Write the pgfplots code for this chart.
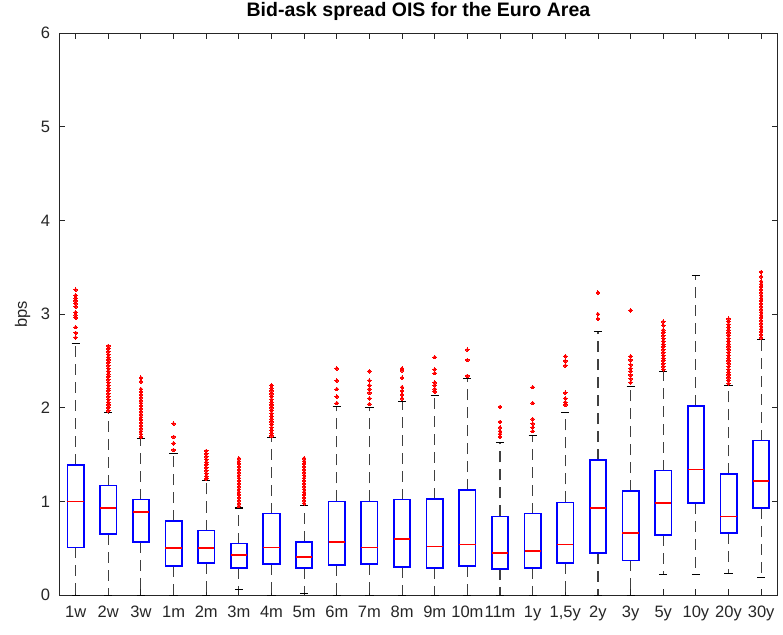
\documentclass[border=0pt]{standalone}
\usepackage{pgfplots}
\pgfplotsset{compat=1.18}
\usepgfplotslibrary{statistics}
\usepackage{fontspec}
\setmainfont{Liberation Sans}
\definecolor{axisgray}{RGB}{38,38,38}

\pgfplotsset{
  matbox/.style={
    blue, solid,
    mark=*, mark size=1.8pt, mark options={draw=red, fill=red, line width=0pt},
    boxplot/draw direction=y,
    boxplot/box extend=0.5,
    boxplot/whisker extend=0.25,
    boxplot/every box/.style={draw=blue, line width=1.7pt},
    boxplot/every median/.style={draw=red, line width=1.7pt},
    boxplot/draw/lower whisker/.code={
      \draw[black!75, line width=1.1pt, dash pattern=on 11pt off 7pt]
        (boxplot box cs:\pgfplotsboxplotvalue{lower quartile},0.5) --
        (boxplot box cs:\pgfplotsboxplotvalue{lower whisker},0.5);
      \draw[black, line width=1.1pt]
        (boxplot whisker cs:\pgfplotsboxplotvalue{lower whisker},0) --
        (boxplot whisker cs:\pgfplotsboxplotvalue{lower whisker},1);
    },
    boxplot/draw/upper whisker/.code={
      \draw[black!75, line width=1.1pt, dash pattern=on 11pt off 7pt]
        (boxplot box cs:\pgfplotsboxplotvalue{upper quartile},0.5) --
        (boxplot box cs:\pgfplotsboxplotvalue{upper whisker},0.5);
      \draw[black, line width=1.1pt]
        (boxplot whisker cs:\pgfplotsboxplotvalue{upper whisker},0) --
        (boxplot whisker cs:\pgfplotsboxplotvalue{upper whisker},1);
    },
  },
}

\begin{document}
\begin{tikzpicture}
\begin{axis}[
  name=ax,
  scale only axis,
  width=718pt, height=562pt,
  xmin=0.5, xmax=22.5,
  ymin=0, ymax=6,
  xtick={1,...,22},
  xticklabels={1w,2w,3w,1m,2m,3m,4m,5m,6m,7m,8m,9m,10m,11m,1y,{1,5y},2y,3y,5y,10y,20y,30y},
  ytick={0,1,2,3,4,5,6},
  tick align=inside,
  major tick length=6pt,
  axis line style={axisgray, line width=0.9pt},
  every tick/.style={axisgray, line width=0.9pt},
  /pgf/number format/assume math mode=true,
  tick label style={font=\fontsize{16.5}{18}\selectfont, text=axisgray},
  xticklabel style={anchor=base, inner sep=0pt, yshift=-22pt},
  yticklabel style={anchor=east, inner sep=0pt, xshift=-9pt},
  title={Bid-ask spread OIS for the Euro Area},
  title style={at={(axis description cs:0.5,1)}, anchor=base, yshift=10.5pt,
    font=\fontsize{19.5}{22}\selectfont\bfseries, inner sep=0pt},
  ylabel={bps},
  every axis y label/.style={at={(axis description cs:0,0.5)}, rotate=90, anchor=center,
    yshift=36.8pt, font=\fontsize{16.5}{18}\selectfont, text=axisgray, inner sep=0pt},
]

% 1w
\addplot[matbox, boxplot prepared={draw position=1, lower whisker=0, lower quartile=0.51, median=1.00, upper quartile=1.39, upper whisker=2.69}]
  table[row sep=\\, y index=0] {y\\ 2.75\\ 2.80\\ 2.86\\ 2.96\\ 2.99\\ 3.02\\ 3.08\\ 3.11\\ 3.14\\ 3.17\\ 3.20\\ 3.26\\};
% 2w
\addplot[matbox, boxplot prepared={draw position=2, lower whisker=0, lower quartile=0.65, median=0.93, upper quartile=1.17, upper whisker=1.95}]
  table[row sep=\\, y index=0] {y\\ 1.97\\ 2.00\\ 2.03\\ 2.06\\ 2.09\\ 2.12\\ 2.15\\ 2.18\\ 2.21\\ 2.24\\ 2.27\\ 2.30\\ 2.33\\ 2.36\\ 2.39\\ 2.42\\ 2.45\\ 2.48\\ 2.51\\ 2.54\\ 2.57\\ 2.60\\ 2.63\\ 2.66\\};
% 3w
\addplot[matbox, boxplot prepared={draw position=3, lower whisker=0, lower quartile=0.57, median=0.89, upper quartile=1.02, upper whisker=1.67}]
  table[row sep=\\, y index=0] {y\\ 1.69\\ 1.72\\ 1.75\\ 1.78\\ 1.81\\ 1.84\\ 1.87\\ 1.90\\ 1.93\\ 1.96\\ 1.99\\ 2.02\\ 2.05\\ 2.08\\ 2.11\\ 2.14\\ 2.17\\ 2.20\\ 2.28\\ 2.32\\};
% 1m
\addplot[matbox, boxplot prepared={draw position=4, lower whisker=0, lower quartile=0.31, median=0.50, upper quartile=0.79, upper whisker=1.51}]
  table[row sep=\\, y index=0] {y\\ 1.55\\ 1.62\\ 1.69\\ 1.83\\};
% 2m
\addplot[matbox, boxplot prepared={draw position=5, lower whisker=0, lower quartile=0.34, median=0.50, upper quartile=0.69, upper whisker=1.22}]
  table[row sep=\\, y index=0] {y\\ 1.24\\ 1.27\\ 1.30\\ 1.33\\ 1.36\\ 1.39\\ 1.42\\ 1.45\\ 1.48\\ 1.51\\ 1.54\\};
% 3m
\addplot[matbox, boxplot prepared={draw position=6, lower whisker=0.06, lower quartile=0.29, median=0.43, upper quartile=0.55, upper whisker=0.93}]
  table[row sep=\\, y index=0] {y\\ 0.95\\ 0.98\\ 1.01\\ 1.04\\ 1.07\\ 1.10\\ 1.13\\ 1.16\\ 1.19\\ 1.22\\ 1.25\\ 1.28\\ 1.31\\ 1.34\\ 1.37\\ 1.40\\ 1.43\\ 1.46\\};
% 4m
\addplot[matbox, boxplot prepared={draw position=7, lower whisker=0, lower quartile=0.33, median=0.51, upper quartile=0.87, upper whisker=1.68}]
  table[row sep=\\, y index=0] {y\\ 1.70\\ 1.73\\ 1.76\\ 1.79\\ 1.82\\ 1.85\\ 1.88\\ 1.91\\ 1.94\\ 1.97\\ 2.00\\ 2.03\\ 2.06\\ 2.09\\ 2.12\\ 2.15\\ 2.18\\ 2.21\\ 2.24\\};
% 5m
\addplot[matbox, boxplot prepared={draw position=8, lower whisker=0.02, lower quartile=0.29, median=0.41, upper quartile=0.57, upper whisker=0.96}]
  table[row sep=\\, y index=0] {y\\ 0.98\\ 1.01\\ 1.04\\ 1.07\\ 1.10\\ 1.13\\ 1.16\\ 1.19\\ 1.22\\ 1.25\\ 1.28\\ 1.31\\ 1.34\\ 1.37\\ 1.40\\ 1.43\\ 1.46\\};
% 6m
\addplot[matbox, boxplot prepared={draw position=9, lower whisker=0, lower quartile=0.32, median=0.57, upper quartile=1.00, upper whisker=2.01}]
  table[row sep=\\, y index=0] {y\\ 2.05\\ 2.12\\ 2.20\\ 2.29\\ 2.42\\};
% 7m
\addplot[matbox, boxplot prepared={draw position=10, lower whisker=0, lower quartile=0.33, median=0.51, upper quartile=1.00, upper whisker=2.00}]
  table[row sep=\\, y index=0] {y\\ 2.04\\ 2.10\\ 2.16\\ 2.20\\ 2.24\\ 2.29\\ 2.39\\};
% 8m
\addplot[matbox, boxplot prepared={draw position=11, lower whisker=0, lower quartile=0.30, median=0.60, upper quartile=1.02, upper whisker=2.07}]
  table[row sep=\\, y index=0] {y\\ 2.10\\ 2.14\\ 2.18\\ 2.22\\ 2.32\\ 2.40\\ 2.42\\};
% 9m
\addplot[matbox, boxplot prepared={draw position=12, lower whisker=0, lower quartile=0.29, median=0.52, upper quartile=1.03, upper whisker=2.13}]
  table[row sep=\\, y index=0] {y\\ 2.17\\ 2.20\\ 2.24\\ 2.27\\ 2.37\\ 2.41\\ 2.54\\};
% 10m
\addplot[matbox, boxplot prepared={draw position=13, lower whisker=0, lower quartile=0.31, median=0.54, upper quartile=1.12, upper whisker=2.31}]
  table[row sep=\\, y index=0] {y\\ 2.34\\ 2.51\\ 2.62\\};
% 11m
\addplot[matbox, boxplot prepared={draw position=14, lower whisker=0, lower quartile=0.28, median=0.45, upper quartile=0.84, upper whisker=1.63}]
  table[row sep=\\, y index=0] {y\\ 1.69\\ 1.72\\ 1.75\\ 1.79\\ 1.85\\ 2.01\\};
% 1y
\addplot[matbox, boxplot prepared={draw position=15, lower whisker=0, lower quartile=0.29, median=0.47, upper quartile=0.87, upper whisker=1.70}]
  table[row sep=\\, y index=0] {y\\ 1.75\\ 1.79\\ 1.83\\ 1.88\\ 2.05\\ 2.22\\};
% 1,5y
\addplot[matbox, boxplot prepared={draw position=16, lower whisker=0, lower quartile=0.34, median=0.54, upper quartile=0.99, upper whisker=1.95}]
  table[row sep=\\, y index=0] {y\\ 2.03\\ 2.06\\ 2.10\\ 2.16\\ 2.45\\ 2.50\\ 2.55\\};
% 2y
\addplot[matbox, boxplot prepared={draw position=17, lower whisker=0, lower quartile=0.45, median=0.93, upper quartile=1.44, upper whisker=2.81}]
  table[row sep=\\, y index=0] {y\\ 2.95\\ 3.00\\ 3.23\\};
% 3y
\addplot[matbox, boxplot prepared={draw position=18, lower whisker=0, lower quartile=0.37, median=0.66, upper quartile=1.11, upper whisker=2.23}]
  table[row sep=\\, y index=0] {y\\ 2.27\\ 2.31\\ 2.35\\ 2.39\\ 2.42\\ 2.46\\ 2.51\\ 2.55\\ 3.04\\};
% 5y
\addplot[matbox, boxplot prepared={draw position=19, lower whisker=0.22, lower quartile=0.64, median=0.98, upper quartile=1.33, upper whisker=2.39}]
  table[row sep=\\, y index=0] {y\\ 2.41\\ 2.44\\ 2.47\\ 2.50\\ 2.53\\ 2.56\\ 2.59\\ 2.62\\ 2.65\\ 2.68\\ 2.71\\ 2.74\\ 2.77\\ 2.80\\ 2.83\\ 2.88\\ 2.92\\};
% 10y
\addplot[matbox, boxplot prepared={draw position=20, lower whisker=0.22, lower quartile=0.98, median=1.34, upper quartile=2.02, upper whisker=3.41}]
  coordinates {};
% 20y
\addplot[matbox, boxplot prepared={draw position=21, lower whisker=0.23, lower quartile=0.66, median=0.84, upper quartile=1.29, upper whisker=2.24}]
  table[row sep=\\, y index=0] {y\\ 2.26\\ 2.29\\ 2.32\\ 2.35\\ 2.38\\ 2.41\\ 2.44\\ 2.47\\ 2.50\\ 2.53\\ 2.56\\ 2.59\\ 2.62\\ 2.65\\ 2.68\\ 2.71\\ 2.74\\ 2.77\\ 2.80\\ 2.83\\ 2.86\\ 2.89\\ 2.92\\ 2.95\\};
% 30y
\addplot[matbox, boxplot prepared={draw position=22, lower whisker=0.19, lower quartile=0.93, median=1.22, upper quartile=1.65, upper whisker=2.73}]
  table[row sep=\\, y index=0] {y\\ 2.75\\ 2.78\\ 2.81\\ 2.84\\ 2.87\\ 2.90\\ 2.93\\ 2.96\\ 2.99\\ 3.02\\ 3.05\\ 3.08\\ 3.11\\ 3.14\\ 3.17\\ 3.20\\ 3.23\\ 3.26\\ 3.29\\ 3.32\\ 3.35\\ 3.40\\ 3.45\\};

\end{axis}
\pgfresetboundingbox
\path ([shift={(-59.3pt,-39pt)}]ax.south west) rectangle ([shift={(5.5pt,33pt)}]ax.north east);
\end{tikzpicture}
\end{document}
